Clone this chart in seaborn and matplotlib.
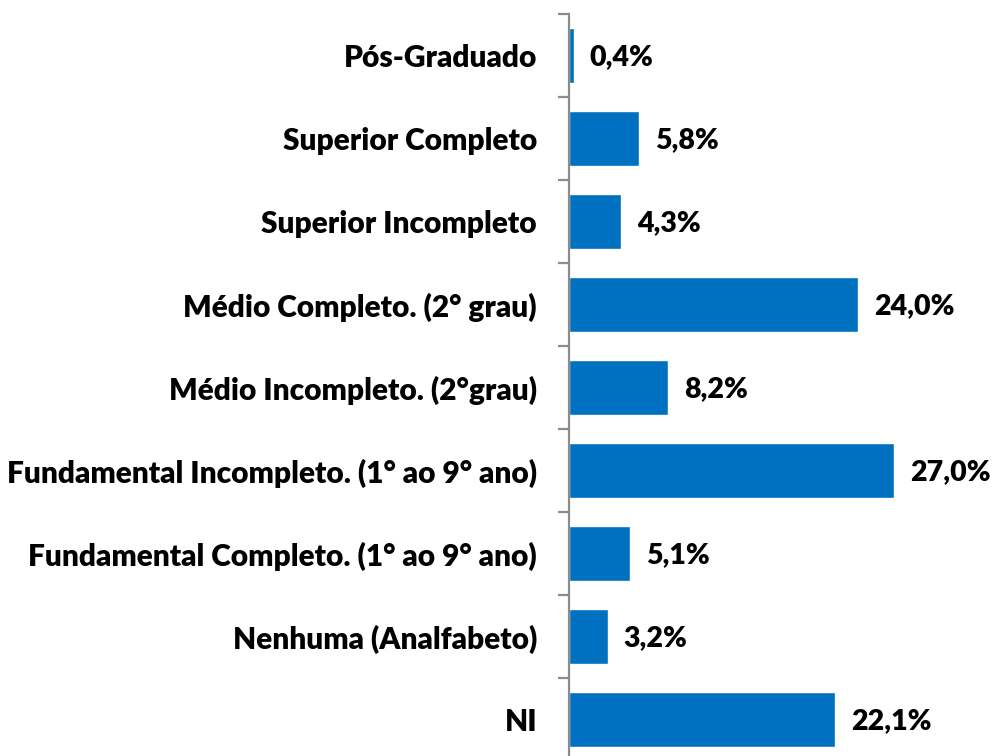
import matplotlib
matplotlib.use("Agg")
import matplotlib.pyplot as plt
import seaborn as sns
import pandas as pd
import numpy as np
from matplotlib.ticker import FixedLocator

categories = [
    "Pós-Graduado",
    "Superior Completo",
    "Superior Incompleto",
    "Médio Completo. (2° grau)",
    "Médio Incompleto. (2°grau)",
    "Fundamental Incompleto. (1° ao 9° ano)",
    "Fundamental Completo. (1° ao 9° ano)",
    "Nenhuma (Analfabeto)",
    "NI",
]
values = [0.4, 5.8, 4.3, 24.0, 8.2, 27.0, 5.1, 3.2, 22.1]
labels = ["0,4%", "5,8%", "4,3%", "24,0%", "8,2%", "27,0%", "5,1%", "3,2%", "22,1%"]

sns.set_theme(style="white")
plt.rcParams["font.family"] = ["Lato", "DejaVu Sans"]

df = pd.DataFrame({"cat": categories, "val": values})

fig = plt.figure(figsize=(9.92, 7.56), dpi=100)
px = 12.04  # pixels per percent
xmax = 35
ax = fig.add_axes([569 / 992, (756 - 761) / 756, xmax * px / 992, 747 / 756])

sns.barplot(data=df, y="cat", x="val", orient="h", color="#0070C0",
            saturation=1, width=0.66, ax=ax, order=categories)

ax.set_xlim(0, xmax)
ax.set_ylim(len(categories) - 0.5, -0.5)
ax.set_xlabel("")
ax.set_ylabel("")
ax.set_xticks([])
for s in ["top", "right", "bottom"]:
    ax.spines[s].set_visible(False)
ax.spines["left"].set_color("#8C8C8C")
ax.spines["left"].set_linewidth(1.6)

ax.tick_params(axis="y", which="major", length=0, pad=23, labelsize=21.5)
for t in ax.get_yticklabels():
    t.set_fontweight("heavy")
    t.set_color("black")
ax.yaxis.set_minor_locator(FixedLocator(np.arange(-0.5, len(categories), 1.0)))
ax.tick_params(axis="y", which="minor", length=8, width=1.6, color="#8C8C8C", left=True)

for i, (v, lab) in enumerate(zip(values, labels)):
    ax.annotate(lab, xy=(v, i), xytext=(16, -2), textcoords="offset pixels",
                va="center", ha="left", fontsize=20.5, fontweight="heavy", color="black")

fig.savefig("out.png", dpi=100)
